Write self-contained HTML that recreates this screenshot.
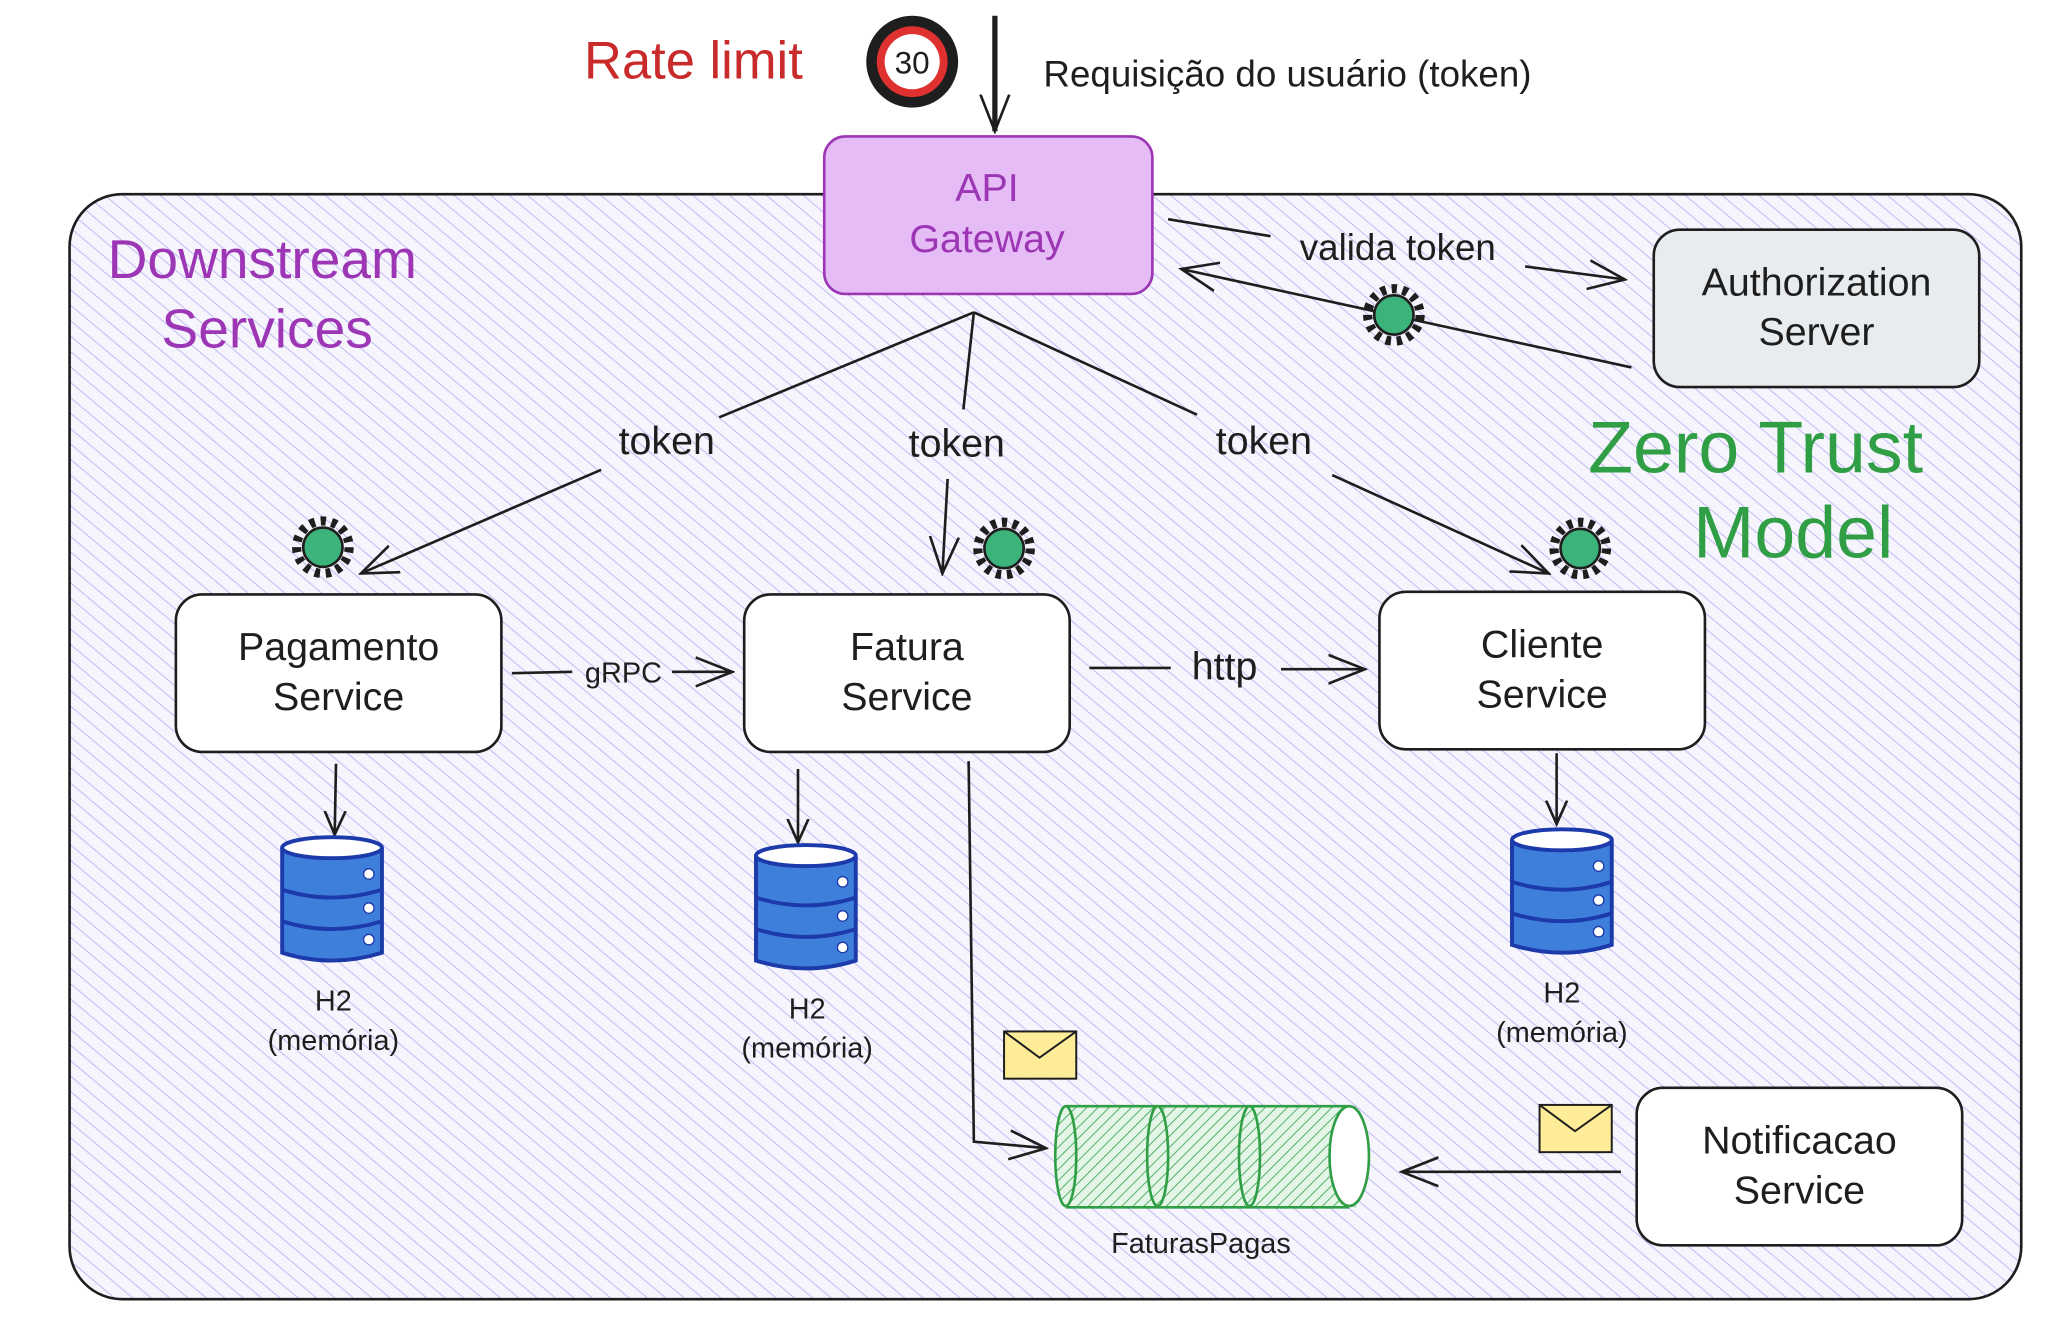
<!DOCTYPE html>
<html><head><meta charset="utf-8"><style>
html,body{margin:0;padding:0;background:#fff;}
svg{display:block;}
text{font-family:"Liberation Sans",sans-serif;}
</style></head><body>
<svg width="2058" height="1328" viewBox="0 0 1568 1012" preserveAspectRatio="none" xmlns="http://www.w3.org/2000/svg">
<defs>
<pattern id="hatch" width="9" height="9" patternUnits="userSpaceOnUse" patternTransform="rotate(-50)">
<rect width="9" height="9" fill="#f6f5fe"/>
<line x1="0" y1="0" x2="0" y2="9" stroke="#b8b0ef" stroke-width="1.3"/>
</pattern>
<pattern id="ghatch" width="6" height="6" patternUnits="userSpaceOnUse" patternTransform="rotate(45)">
<rect width="6" height="6" fill="#e3f5e6"/>
<line x1="0" y1="0" x2="0" y2="6" stroke="#2f9e44" stroke-width="1.2"/>
</pattern>
<marker id="ar" viewBox="0 0 20 20" refX="18" refY="10" markerWidth="20" markerHeight="20" markerUnits="userSpaceOnUse" orient="auto">
<path d="M0,2 L18,10 L0,18" fill="none" stroke="#1e1e1e" stroke-width="2"/>
</marker>
<marker id="ar2" viewBox="0 0 30 30" refX="28" refY="15" markerWidth="30" markerHeight="30" markerUnits="userSpaceOnUse" orient="auto">
<path d="M0,4 L28,15 L0,26" fill="none" stroke="#1e1e1e" stroke-width="2"/>
</marker>
<g id="gear">
<circle r="20" fill="none" stroke="#1e1e1e" stroke-width="7" stroke-dasharray="4 4.4"/>
<circle r="15" fill="#3bb37a" stroke="#1e1e1e" stroke-width="2"/>
</g>
<g id="db">
<path d="M0,8 L0,88 Q38,100 76,88 L76,8" fill="#3f7fdc" stroke="#1c3aa9" stroke-width="3"/>
<ellipse cx="38" cy="8" rx="38" ry="8" fill="#fff" stroke="#1c3aa9" stroke-width="3"/>
<path d="M0,40 Q38,52 76,40 M0,64 Q38,76 76,64" fill="none" stroke="#1c3aa9" stroke-width="3"/>
<circle cx="66" cy="28" r="4" fill="#fff" stroke="#1c3aa9"/>
<circle cx="66" cy="54" r="4" fill="#fff" stroke="#1c3aa9"/>
<circle cx="66" cy="78" r="4" fill="#fff" stroke="#1c3aa9"/>
</g>
<g id="env">
<rect x="0" y="0" width="55" height="36" fill="#ffec99" stroke="#1e1e1e" stroke-width="1.5"/>
<path d="M0,0 L27,20 L55,0" fill="none" stroke="#1e1e1e" stroke-width="1.5"/>
</g>
</defs>

<rect x="53" y="148" width="1487" height="842" rx="40" fill="url(#hatch)" stroke="#1e1e1e" stroke-width="2"/>

<text x="445" y="60" font-size="40" fill="#c92a2a">Rate limit</text>
<circle cx="695" cy="47" r="35" fill="#1e1e1e"/>
<circle cx="695" cy="47" r="27" fill="#e03131"/>
<circle cx="695" cy="47" r="21" fill="#fff"/>
<text x="695" y="56" font-size="24" text-anchor="middle" fill="#1e1e1e">30</text>
<line x1="758" y1="12" x2="758" y2="100" stroke="#1e1e1e" stroke-width="4" marker-end="url(#ar2)"/>
<text x="795" y="66" font-size="28" fill="#1e1e1e">Requisição do usuário (token)</text>

<text x="82" y="212" font-size="42" fill="#9c36b5">Downstream</text>
<text x="123" y="265" font-size="42" fill="#9c36b5">Services</text>

<rect x="628" y="104" width="250" height="120" rx="16" fill="#e5bcf5" stroke="#9c36b5" stroke-width="2"/>
<text x="752" y="153" font-size="30" text-anchor="middle" fill="#9c36b5">API</text>
<text x="752" y="192" font-size="30" text-anchor="middle" fill="#9c36b5">Gateway</text>

<rect x="1260" y="175" width="248" height="120" rx="20" fill="#e9ecef" stroke="#1e1e1e" stroke-width="2"/>
<text x="1384" y="225" font-size="30" text-anchor="middle" fill="#1e1e1e">Authorization</text>
<text x="1384" y="263" font-size="30" text-anchor="middle" fill="#1e1e1e">Server</text>

<line x1="890" y1="167" x2="968" y2="180" stroke="#1e1e1e" stroke-width="2"/>
<text x="1065" y="198" font-size="28" text-anchor="middle" fill="#1e1e1e">valida token</text>
<line x1="1162" y1="203" x2="1238" y2="213" stroke="#1e1e1e" stroke-width="2" marker-end="url(#ar2)"/>
<line x1="1243" y1="280" x2="900" y2="205" stroke="#1e1e1e" stroke-width="2" marker-end="url(#ar2)"/>
<use href="#gear" x="1062" y="240"/>

<text x="1210" y="360" font-size="56" fill="#2f9e44">Zero Trust</text>
<text x="1290" y="425" font-size="56" fill="#2f9e44">Model</text>

<line x1="742" y1="238" x2="548" y2="318" stroke="#1e1e1e" stroke-width="2"/>
<line x1="458" y1="358" x2="275" y2="437" stroke="#1e1e1e" stroke-width="2" marker-end="url(#ar2)"/>
<text x="508" y="346" font-size="30" text-anchor="middle" fill="#1e1e1e">token</text>
<line x1="742" y1="238" x2="734" y2="312" stroke="#1e1e1e" stroke-width="2"/>
<line x1="722" y1="365" x2="718" y2="437" stroke="#1e1e1e" stroke-width="2" marker-end="url(#ar2)"/>
<text x="729" y="348" font-size="30" text-anchor="middle" fill="#1e1e1e">token</text>
<line x1="742" y1="238" x2="912" y2="316" stroke="#1e1e1e" stroke-width="2"/>
<line x1="1015" y1="362" x2="1180" y2="437" stroke="#1e1e1e" stroke-width="2" marker-end="url(#ar2)"/>
<text x="963" y="346" font-size="30" text-anchor="middle" fill="#1e1e1e">token</text>

<use href="#gear" x="246" y="417"/>
<use href="#gear" x="765" y="418"/>
<use href="#gear" x="1204" y="418"/>

<rect x="134" y="453" width="248" height="120" rx="20" fill="#fff" stroke="#1e1e1e" stroke-width="2"/>
<text x="258" y="503" font-size="30" text-anchor="middle" fill="#1e1e1e">Pagamento</text>
<text x="258" y="541" font-size="30" text-anchor="middle" fill="#1e1e1e">Service</text>
<rect x="567" y="453" width="248" height="120" rx="20" fill="#fff" stroke="#1e1e1e" stroke-width="2"/>
<text x="691" y="503" font-size="30" text-anchor="middle" fill="#1e1e1e">Fatura</text>
<text x="691" y="541" font-size="30" text-anchor="middle" fill="#1e1e1e">Service</text>
<rect x="1051" y="451" width="248" height="120" rx="20" fill="#fff" stroke="#1e1e1e" stroke-width="2"/>
<text x="1175" y="501" font-size="30" text-anchor="middle" fill="#1e1e1e">Cliente</text>
<text x="1175" y="539" font-size="30" text-anchor="middle" fill="#1e1e1e">Service</text>

<line x1="390" y1="513" x2="436" y2="512" stroke="#1e1e1e" stroke-width="2"/>
<text x="475" y="520" font-size="22" text-anchor="middle" fill="#1e1e1e">gRPC</text>
<line x1="512" y1="512" x2="558" y2="512" stroke="#1e1e1e" stroke-width="2" marker-end="url(#ar2)"/>
<line x1="830" y1="509" x2="892" y2="509" stroke="#1e1e1e" stroke-width="2"/>
<text x="933" y="518" font-size="30" text-anchor="middle" fill="#1e1e1e">http</text>
<line x1="976" y1="510" x2="1040" y2="510" stroke="#1e1e1e" stroke-width="2" marker-end="url(#ar2)"/>

<line x1="256" y1="582" x2="255" y2="636" stroke="#1e1e1e" stroke-width="2" marker-end="url(#ar)"/>
<line x1="608" y1="586" x2="608" y2="642" stroke="#1e1e1e" stroke-width="2" marker-end="url(#ar)"/>
<line x1="1186" y1="574" x2="1186" y2="628" stroke="#1e1e1e" stroke-width="2" marker-end="url(#ar)"/>

<use href="#db" x="215" y="638"/>
<use href="#db" x="576" y="644"/>
<use href="#db" x="1152" y="632"/>

<text x="254" y="770" font-size="22" text-anchor="middle" fill="#1e1e1e">H2</text>
<text x="254" y="800" font-size="22" text-anchor="middle" fill="#1e1e1e">(memória)</text>
<text x="615" y="776" font-size="22" text-anchor="middle" fill="#1e1e1e">H2</text>
<text x="615" y="806" font-size="22" text-anchor="middle" fill="#1e1e1e">(memória)</text>
<text x="1190" y="764" font-size="22" text-anchor="middle" fill="#1e1e1e">H2</text>
<text x="1190" y="794" font-size="22" text-anchor="middle" fill="#1e1e1e">(memória)</text>

<path d="M738,580 L742,870 L797,875" fill="none" stroke="#1e1e1e" stroke-width="2" marker-end="url(#ar2)"/>
<use href="#env" x="765" y="786"/>
<use href="#env" x="1173" y="842"/>

<rect x="808" y="843" width="225" height="77" fill="url(#ghatch)" stroke="none"/>
<ellipse cx="812" cy="881" rx="8" ry="38" fill="url(#ghatch)" stroke="#2f9e44" stroke-width="2"/>
<path d="M812,843 L1028,843 M812,920 L1028,920" stroke="#2f9e44" stroke-width="2"/>
<ellipse cx="882" cy="881" rx="8" ry="38" fill="none" stroke="#2f9e44" stroke-width="2"/>
<ellipse cx="952" cy="881" rx="8" ry="38" fill="none" stroke="#2f9e44" stroke-width="2"/>
<ellipse cx="1028" cy="881" rx="15" ry="38" fill="#fff" stroke="#2f9e44" stroke-width="2"/>
<text x="915" y="955" font-size="22" text-anchor="middle" fill="#1e1e1e">FaturasPagas</text>

<rect x="1247" y="829" width="248" height="120" rx="20" fill="#fff" stroke="#1e1e1e" stroke-width="2"/>
<text x="1371" y="879" font-size="30" text-anchor="middle" fill="#1e1e1e">Notificacao</text>
<text x="1371" y="917" font-size="30" text-anchor="middle" fill="#1e1e1e">Service</text>
<line x1="1235" y1="893" x2="1068" y2="893" stroke="#1e1e1e" stroke-width="2" marker-end="url(#ar2)"/>
</svg>
</body></html>
